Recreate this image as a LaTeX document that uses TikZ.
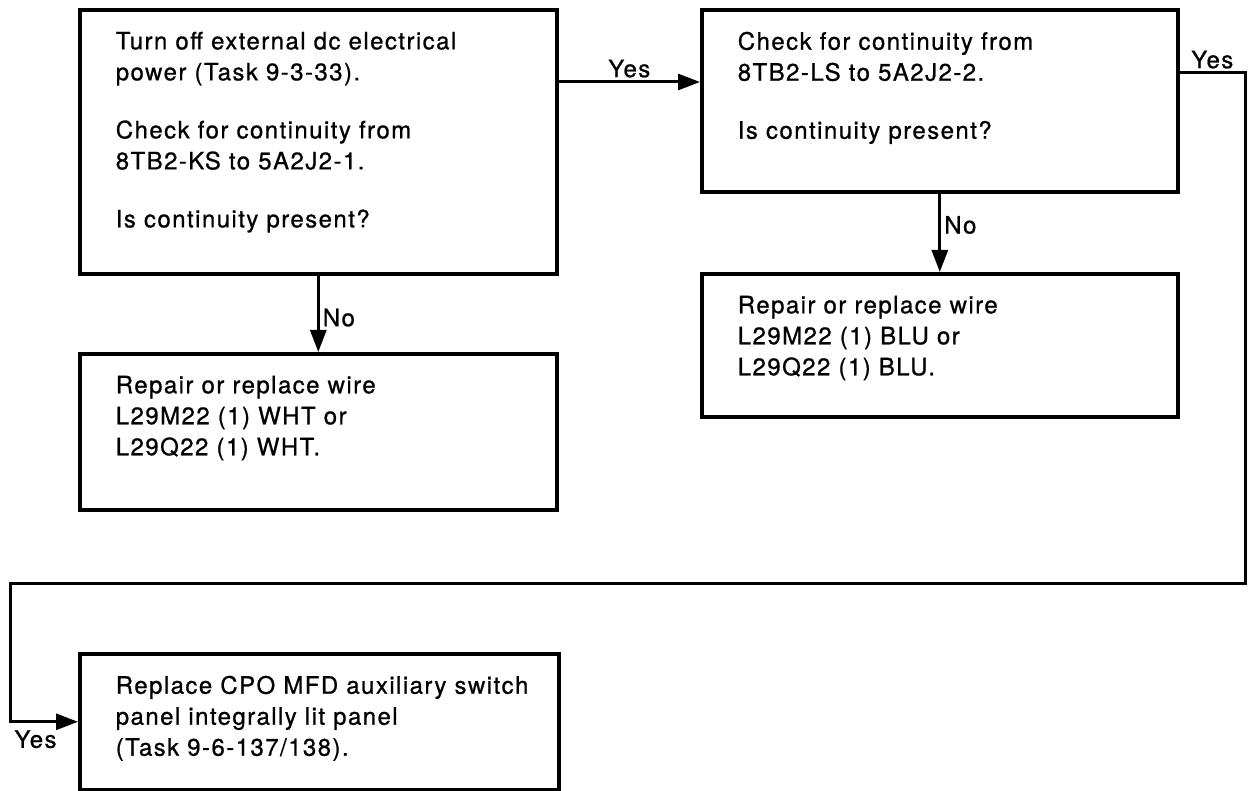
\documentclass[tikz,border=0pt]{standalone}
\usepackage{fontspec}
\usepackage{tikz}
\usetikzlibrary{arrows.meta,positioning,calc}
\newfontfamily\chartfont{TeX Gyre Heros}[LetterSpace=6,FakeBold=0.8]
\newcommand{\boxtext}[3]{\begin{minipage}[t][#2][t]{#1}\raggedright #3\end{minipage}}

\begin{document}
\begin{tikzpicture}[x=1pt,y=-1pt,
    taskbox/.style={draw, line width=3.6pt, anchor=north west, inner xsep=36pt, inner ysep=22pt,
                    font=\chartfont\fontsize{24}{31}\selectfont},
    flow/.style={line width=3pt, -{Triangle[length=22pt,width=16pt]}},
    lbl/.style={font=\chartfont\fontsize{24}{28}\selectfont, inner sep=3pt}]
  \useasboundingbox (0,0) rectangle (1248,791);

  % decision boxes
  \node[taskbox] (check1) at (78,8) {\boxtext{405pt}{220pt}{%
      Turn off external dc electrical\\ power (Task 9-3-33).\\[27pt]
      Check for continuity from\\ 8TB2-KS to 5A2J2-1.\\[27pt]
      Is continuity present?}};
  \node[taskbox] (check2) at (700,8) {\boxtext{404pt}{138pt}{%
      Check for continuity from\\ 8TB2-LS to 5A2J2-2.\\[27pt]
      Is continuity present?}};

  % action boxes
  \node[taskbox] (repair1) at (78,352) {\boxtext{405pt}{112pt}{%
      Repair or replace wire\\ L29M22 (1) WHT or\\ L29Q22 (1) WHT.}};
  \node[taskbox] (repair2) at (700,272) {\boxtext{404pt}{99pt}{%
      Repair or replace wire\\ L29M22 (1) BLU or\\ L29Q22 (1) BLU.}};
  \node[taskbox] (replace) at (78,652) {\boxtext{407pt}{92pt}{%
      \mbox{Replace CPO MFD auxiliary switch}\\ panel integrally lit panel\\ (Task 9-6-137/138).}};

  % connectors
  \coordinate (yesA) at ([yshift=-74pt]check1.north east);
  \draw[flow] (yesA) -- node[lbl, above] (yesAlbl) {Yes} (yesA -| check2.west);
  \draw[flow] (check1.south) -- node[lbl, right, pos=0.55] (noA) {No} (repair1.north);
  \draw[flow] (check2.south) -- node[lbl, right, pos=0.4] (noB) {No} (repair2.north);

  \coordinate (rightturn) at (1245,73);
  \coordinate (leftturn) at (10,583);
  \draw[flow] (check2.east |- rightturn) -- node[lbl, above] (yesB) {Yes} (rightturn)
      |- (leftturn) |- node[lbl, anchor=north west, pos=0.5, yshift=-4pt] (yesC) {Yes} (replace.west);
\end{tikzpicture}
\end{document}
